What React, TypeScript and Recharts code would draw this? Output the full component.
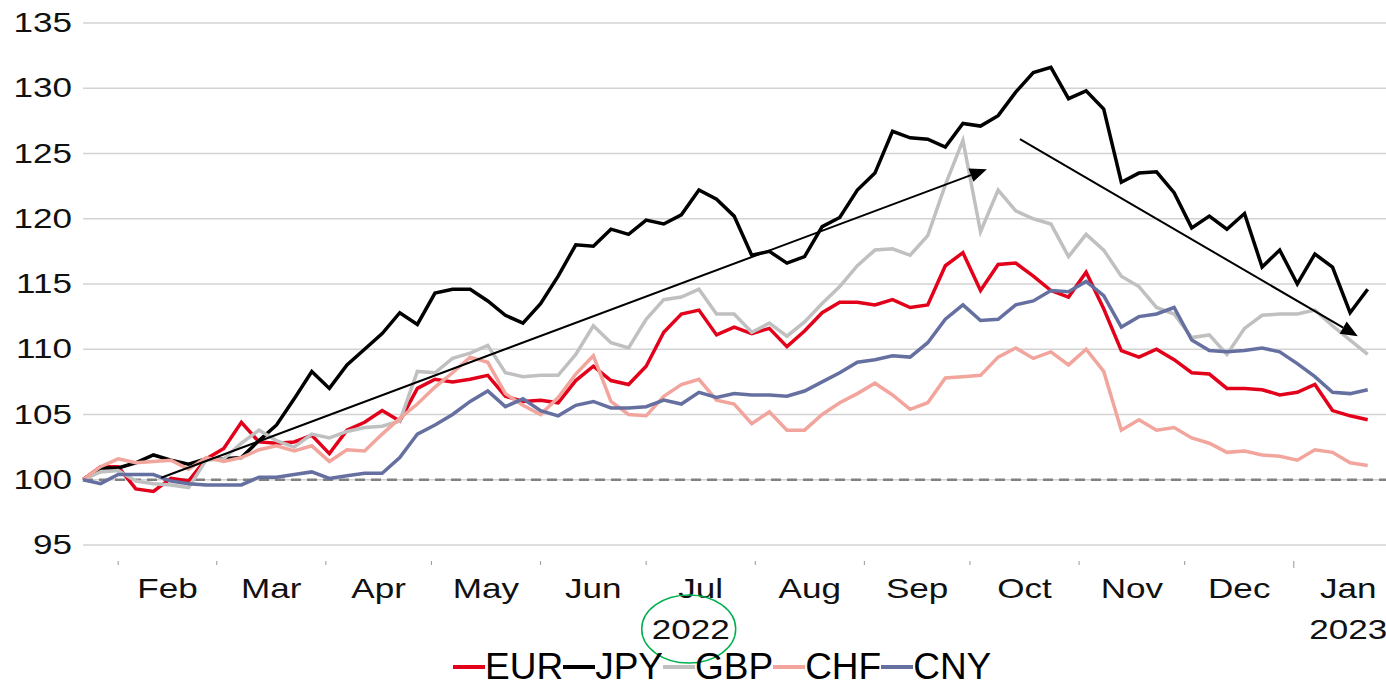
import { LineChart, Line, XAxis, YAxis, CartesianGrid, ReferenceLine } from 'recharts';

// days counted from 22 Jan 2022
const DAYS = [
  0, 5, 10, 15, 20, 25, 30, 35, 40, 45,
  50, 55, 60, 65, 70, 75, 80, 85, 90, 95,
  100, 105, 110, 115, 120, 125, 130, 135, 140, 145,
  150, 155, 160, 165, 170, 175, 180, 185, 190, 195,
  200, 205, 210, 215, 220, 225, 230, 235, 240, 245,
  250, 255, 260, 265, 270, 275, 280, 285, 290, 295,
  300, 305, 310, 315, 320, 325, 330, 335, 340, 345,
  350, 355, 360, 365,
];

const EUR = [
  100, 101.0, 101.0, 99.3, 99.1, 100.1, 99.9, 101.6, 102.4, 104.4,
  102.9, 102.8, 102.9, 103.4, 102.0, 103.8, 104.4, 105.3, 104.5, 107.0,
  107.7, 107.5, 107.7, 108.0, 106.4, 106.0, 106.1, 105.9, 107.6, 108.7,
  107.6, 107.3, 108.7, 111.3, 112.7, 113.0, 111.1, 111.7, 111.2, 111.6,
  110.2, 111.4, 112.8, 113.6, 113.6, 113.4, 113.8, 113.2, 113.4, 116.4,
  117.4, 114.5, 116.5, 116.6, 115.6, 114.5, 114.0, 115.9, 113.1, 109.9,
  109.4, 110.0, 109.2, 108.2, 108.1, 107.0, 107.0, 106.9, 106.5, 106.7,
  107.3, 105.3, 104.9, 104.6,
];

const JPY = [
  100, 100.9, 100.9, 101.3, 101.9, 101.5, 101.2, 101.6, 101.6, 101.7,
  103.0, 104.2, 106.2, 108.3, 107.0, 108.8, 110.0, 111.2, 112.8, 111.9,
  114.3, 114.6, 114.6, 113.7, 112.6, 112.0, 113.5, 115.6, 118.0, 117.9,
  119.2, 118.8, 119.9, 119.6, 120.3, 122.2, 121.5, 120.2, 117.2, 117.5,
  116.6, 117.1, 119.4, 120.1, 122.2, 123.5, 126.7, 126.2, 126.1, 125.5,
  127.3, 127.1, 127.9, 129.7, 131.2, 131.6, 129.2, 129.8, 128.4, 122.8,
  123.5, 123.6, 122.0, 119.3, 120.2, 119.2, 120.4, 116.3, 117.6, 115.0,
  117.3, 116.3, 112.8, 114.6,
];

const GBP = [
  100, 100.6, 100.7, 99.9, 99.7, 99.6, 99.4, 101.5, 101.6, 102.8,
  103.8, 103.0, 102.5, 103.5, 103.2, 103.7, 104.0, 104.1, 104.5, 108.3,
  108.2, 109.3, 109.7, 110.3, 108.2, 107.9, 108.0, 108.0, 109.6, 111.8,
  110.5, 110.1, 112.3, 113.8, 114.0, 114.6, 112.7, 112.7, 111.3, 112.0,
  111.0, 112.1, 113.5, 114.8, 116.4, 117.6, 117.7, 117.2, 118.7, 122.6,
  126.0, 119.0, 122.2, 120.6, 120.0, 119.6, 117.1, 118.8, 117.6, 115.6,
  114.8, 113.2, 112.7, 110.9, 111.1, 109.6, 111.6, 112.6, 112.7, 112.7,
  113.0, 111.8, 110.7, 109.6,
];

const CHF = [
  100, 101.0, 101.6, 101.3, 101.4, 101.5, 100.8, 101.7, 101.4, 101.7,
  102.3, 102.6, 102.2, 102.6, 101.4, 102.3, 102.2, 103.5, 104.7, 105.8,
  107.1, 108.2, 109.4, 109.0, 106.6, 105.7, 105.0, 106.3, 108.1, 109.5,
  106.0, 105.0, 104.9, 106.4, 107.3, 107.7, 106.1, 105.8, 104.3, 105.2,
  103.8, 103.8, 105.0, 105.9, 106.6, 107.4, 106.5, 105.4, 105.9, 107.8,
  107.9, 108.0, 109.4, 110.1, 109.3, 109.8, 108.8, 110.0, 108.3, 103.8,
  104.6, 103.8, 104.0, 103.2, 102.8, 102.1, 102.2, 101.9, 101.8, 101.5,
  102.3, 102.1, 101.3, 101.1,
];

const CNY = [
  100, 99.7, 100.4, 100.4, 100.4, 99.9, 99.7, 99.6, 99.6, 99.6,
  100.2, 100.2, 100.4, 100.6, 100.1, 100.3, 100.5, 100.5, 101.7, 103.5,
  104.2, 105.0, 106.0, 106.8, 105.6, 106.2, 105.3, 104.9, 105.7, 106.0,
  105.5, 105.5, 105.6, 106.1, 105.8, 106.7, 106.3, 106.6, 106.5, 106.5,
  106.4, 106.8, 107.5, 108.2, 109.0, 109.2, 109.5, 109.4, 110.5, 112.3,
  113.4, 112.2, 112.3, 113.4, 113.7, 114.5, 114.4, 115.2, 114.1, 111.7,
  112.5, 112.7, 113.2, 110.7, 109.9, 109.8, 109.9, 110.1, 109.8, 108.9,
  107.9, 106.7, 106.6, 106.9,
];

// first day of each month, same day count
const MONTH_STARTS = [10, 38, 69, 99, 130, 160, 191, 222, 252, 283, 313, 344];
const MONTH_END = 375;
const MONTH_LABELS = ['Feb', 'Mar', 'Apr', 'May', 'Jun', 'Jul', 'Aug', 'Sep', 'Oct', 'Nov', 'Dec', 'Jan'];
const YEAR_LABELS: Record<string, string> = { Jul: '2022', Jan: '2023' };
const Y_TICKS = [95, 100, 105, 110, 115, 120, 125, 130, 135];

const UP_ARROW = [{ x: 22.2, y: 100.15 }, { x: 256.8, y: 123.8 }];
const DOWN_ARROW = [{ x: 266.2, y: 126.1 }, { x: 362.2, y: 111.0 }];

const SERIES = [
  { key: 'EUR', color: '#e3001b', values: EUR },
  { key: 'JPY', color: '#000000', values: JPY },
  { key: 'GBP', color: '#c0c0c0', values: GBP },
  { key: 'CHF', color: '#f2a59d', values: CHF },
  { key: 'CNY', color: '#6570a0', values: CNY },
];

const data = DAYS.map((day, i) => {
  const row: Record<string, number> = { day };
  SERIES.forEach((s) => { row[s.key] = s.values[i]; });
  return row;
});

const W = 1386;
const H = 700;
const PLOT_LEFT = 83;
const X_MAX = 370.2;
const PX_PER_DAY = (W - PLOT_LEFT) / X_MAX;
const FONT = '"Liberation Sans", Arial, sans-serif';
const STRETCH = 1.3;

function YTick({ x, y, payload }: any) {
  return (
    <g transform={`translate(${x} ${y}) scale(${STRETCH} 1)`}>
      <text x={0} y={0} textAnchor="end" dominantBaseline="central" fontSize={27} fill="#111">
        {payload.value}
      </text>
    </g>
  );
}

function MonthTick({ x, y, payload }: any) {
  const i = MONTH_STARTS.indexOf(payload.value);
  const next = MONTH_STARTS[i + 1] ?? MONTH_END;
  const lx = x + ((next - payload.value) / 2) * PX_PER_DAY;
  const label = MONTH_LABELS[i];
  const year = YEAR_LABELS[label];
  const yearX = label === 'Jul' ? lx - 10 : lx;
  return (
    <g>
      <line x1={x} x2={x} y1={y + 16} y2={y + (label === 'Jan' ? 23 : 20)} stroke="#999" strokeWidth={1} />
      <g transform={`translate(${lx} ${y + 53}) scale(${STRETCH} 1)`}>
        <text x={0} y={0} textAnchor="middle" fontSize={27} fill="#111">{label}</text>
      </g>
      {year && (
        <g transform={`translate(${yearX} ${y + 94}) scale(${STRETCH} 1)`}>
          <text x={0} y={0} textAnchor="middle" fontSize={27} fill="#111">{year}</text>
        </g>
      )}
      {label === 'Jul' && (
        <ellipse cx={yearX - 2} cy={y + 84} rx={47} ry={34} fill="none" stroke="#00b050" strokeWidth={1.5} />
      )}
    </g>
  );
}

function Arrow({ x1, y1, x2, y2 }: any) {
  const len = Math.hypot(x2 - x1, y2 - y1);
  const ux = (x2 - x1) / len;
  const uy = (y2 - y1) / len;
  const hl = 17;
  const hw = 7;
  const bx = x2 - ux * hl;
  const by = y2 - uy * hl;
  const pts = `${x2},${y2} ${bx - uy * hw},${by + ux * hw} ${bx + uy * hw},${by - ux * hw}`;
  return (
    <g>
      <line x1={x1} y1={y1} x2={bx} y2={by} stroke="#000" strokeWidth={2} />
      <polygon points={pts} fill="#000" />
    </g>
  );
}

export default function App() {
  return (
    <div
      style={{
        position: 'fixed', left: 0, top: 0, width: W, height: 689,
        overflow: 'hidden', background: '#fff', fontFamily: FONT,
      }}
    >
      <LineChart width={W} height={H} data={data} margin={{ top: 23, right: 0, bottom: 0, left: 0 }}>
        <CartesianGrid vertical={false} stroke="#d3d3d3" strokeWidth={1.5} />
        <XAxis
          dataKey="day"
          type="number"
          domain={[0, X_MAX]}
          ticks={MONTH_STARTS}
          interval={0}
          height={155}
          axisLine={false}
          tickLine={false}
          tickSize={0}
          tickMargin={0}
          tick={MonthTick}
        />
        <YAxis
          domain={[95, 135]}
          ticks={Y_TICKS}
          interval={0}
          width={PLOT_LEFT}
          axisLine={false}
          tickLine={false}
          tickSize={0}
          tickMargin={11}
          tick={YTick}
        />
        <ReferenceLine y={100} stroke="#808080" strokeWidth={2.5} strokeDasharray="10 6" />
        {SERIES.map((s) => (
          <Line
            key={s.key}
            dataKey={s.key}
            type="linear"
            stroke={s.color}
            strokeWidth={3.5}
            dot={false}
            isAnimationActive={false}
          />
        ))}
        <ReferenceLine segment={UP_ARROW} shape={Arrow} />
        <ReferenceLine segment={DOWN_ARROW} shape={Arrow} />
      </LineChart>
      <div style={{ position: 'absolute', left: 453, top: 648, display: 'flex', alignItems: 'center' }}>
        {SERIES.map((s) => (
          <div key={s.key} style={{ display: 'flex', alignItems: 'center' }}>
            <span style={{ display: 'inline-block', width: 32, height: 4, background: s.color }} />
            <span style={{ fontSize: 37, lineHeight: 1, color: '#000' }}>{s.key}</span>
          </div>
        ))}
      </div>
    </div>
  );
}
